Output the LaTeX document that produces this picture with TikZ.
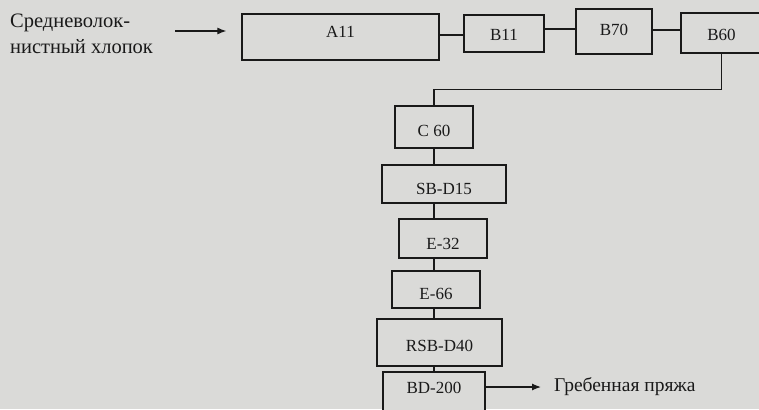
\documentclass[tikz,border=0pt]{standalone}
\usepackage{fontspec}
\setmainfont{Liberation Serif}
\usetikzlibrary{arrows.meta}
\definecolor{paper}{RGB}{218,218,216}
\definecolor{ink}{RGB}{25,25,25}
\newcommand{\shft}[2]{\raisebox{#1}[\height][\depth]{#2}}
\tikzset{
  box/.style={draw=ink, line width=1.3pt, fill=paper, inner sep=0pt, font=\fontsize{17}{17}\selectfont, text=ink},
  conn/.style={draw=ink, line width=1.2pt},
  arr/.style={draw=ink, line width=1.2pt, -{Latex[length=9pt,width=7pt]}},
  lbl/.style={inner sep=0pt, text=ink, font=\fontsize{20.5}{26}\selectfont, align=left}
}
\begin{document}
\begin{tikzpicture}[x=1pt,y=-1pt]
\path[fill=paper] (0,0) rectangle (759,409);
\useasboundingbox (0,0) rectangle (759,409);
% top row
\node[box, minimum width=197pt, minimum height=46pt] (a11) at (340.5,37) {\shft{5pt}{A11}};
\node[box, minimum width=80pt, minimum height=37pt] (b11) at (504,33.5) {\shft{-1pt}{B11}};
\node[box, minimum width=76pt, minimum height=45pt] (b70) at (614,31.5) {\shft{2pt}{B70}};
\node[box, minimum width=81pt, minimum height=40pt] (b60) at (721.5,33) {\shft{-2pt}{B60}};
% column
\node[box, minimum width=78pt, minimum height=42pt] (c60) at (434,127) {\shft{-4pt}{C 60}};
\node[box, minimum width=124pt, minimum height=38pt] (sbd15) at (444,184) {\shft{-5pt}{SB-D15}};
\node[box, minimum width=88pt, minimum height=39pt] (e32) at (443,238.5) {\shft{-5pt}{E-32}};
\node[box, minimum width=88pt, minimum height=37pt] (e66) at (436,289.5) {\shft{-4pt}{E-66}};
\node[box, minimum width=125pt, minimum height=47pt] (rsb) at (439.5,342.5) {\shft{-3pt}{RSB-D40}};
\node[box, minimum width=102pt, minimum height=42pt] (bd) at (434,393) {\shft{5pt}{BD-200}};
% texts
\node[lbl, anchor=west] (in) at (10,34) {Средневолок-\\нистный хлопок};
\node[lbl, anchor=west, font=\fontsize{19.5}{22}\selectfont] (out) at (554,387) {Гребенная пряжа};
% connectors
\draw[arr, shorten <=22pt, shorten >=15pt] (in.east |- 0,31) -- (a11.west |- 0,31);
\draw[conn] (a11.east |- 0,35) -- (b11.west |- 0,35);
\draw[conn] (b11.east |- 0,29) -- (b70.west |- 0,29);
\draw[conn] (b70.east |- 0,30) -- (b60.west |- 0,30);
\draw[conn] (b60.south) -- ++(0,36) -| (c60.north);
\draw[conn] (c60.south) -- (c60.south |- sbd15.north);
\draw[conn] (sbd15.south -| c60.south) -- (e32.north -| c60.south);
\draw[conn] (e32.south -| c60.south) -- (e66.north -| c60.south);
\draw[conn] (e66.south -| c60.south) -- (rsb.north -| c60.south);
\draw[conn] (rsb.south -| c60.south) -- (bd.north -| c60.south);
\draw[arr, shorten >=13pt] (bd.east |- out.west) -- (out.west);
\end{tikzpicture}
\end{document}
